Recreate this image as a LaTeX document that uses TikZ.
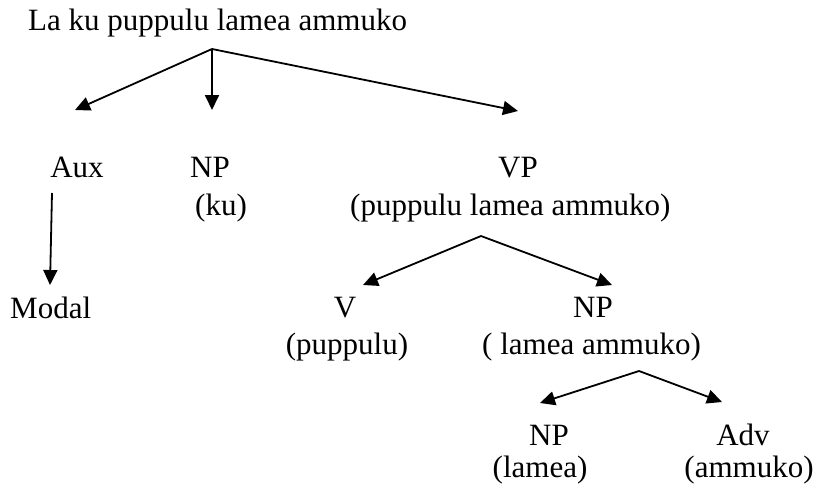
\documentclass[tikz,border=0pt]{standalone}
\usepackage{fontspec}
\setmainfont{Liberation Serif}
\usetikzlibrary{arrows.meta}

\begin{document}
\begin{tikzpicture}[x=1pt, y=-1pt,
    every node/.style = {inner sep=0pt, anchor=base,
    font=\fontsize{31}{37}\selectfont},
    lft/.style={anchor=base west},
    branch/.style={line width=1.8pt, -{Triangle[length=15pt,width=14pt]}}]
    \useasboundingbox (0,0) rectangle (818,490);
    % words
    \node[lft] (root) at (28, 30) {La ku puppulu lamea ammuko};
    \node (aux) at (77, 177) {Aux};
    \node (np1) at (210, 177) {NP};
    \node (ku) at (221, 215) {(ku)};
    \node (vp) at (518, 177) {VP};
    \node[lft] (vpw) at (350, 215) {(puppulu lamea ammuko)};
    \node[lft] (modal) at (10, 318) {Modal};
    \node (v) at (345, 317) {V};
    \node (np2) at (593, 317) {NP};
    \node (pup) at (347, 354) {(puppulu)};
    \node[lft] (np2w) at (482, 354) {( lamea ammuko)};
    \node (np3) at (549, 445) {NP};
    \node (adv) at (743, 445) {Adv};
    \node (lam) at (540, 477) {(lamea)};
    \node (amm) at (749, 477) {(ammuko)};
    % forks and arrow ends
    \coordinate (f0) at (212, 49);
    \coordinate (t1) at (75, 110);
    \coordinate (t2) at (212, 110);
    \coordinate (t3) at (518, 111);
    \coordinate (a0) at (52, 193);
    \coordinate (a1) at (50, 285);
    \coordinate (f1) at (481, 236);
    \coordinate (t4) at (363, 285);
    \coordinate (t5) at (612, 285);
    \coordinate (f2) at (639, 371);
    \coordinate (t6) at (540, 403);
    \coordinate (t7) at (722, 402);
    \path[branch]
        (f0) edge (t1)
        (f0) edge (t2)
        (f0) edge (t3)
        (a0) edge (a1)
        (f1) edge (t4)
        (f1) edge (t5)
        (f2) edge (t6)
        (f2) edge (t7);
\end{tikzpicture}
\end{document}
